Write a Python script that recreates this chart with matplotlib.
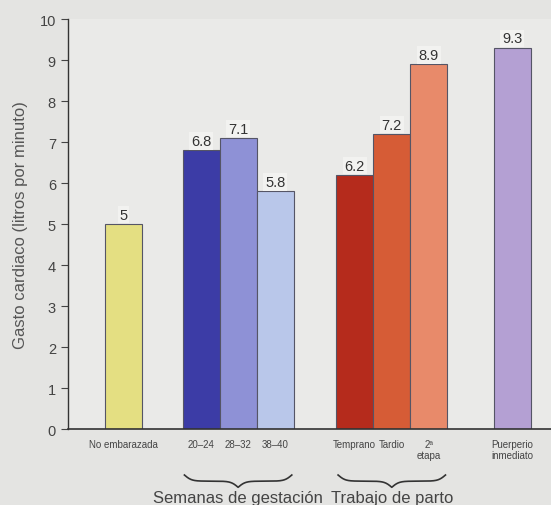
import numpy as np
import matplotlib.pyplot as plt

plt.rcParams['font.family'] = ['Liberation Sans', 'DejaVu Sans']

# Datos
categorias = ['No embarazada', '20–24', '28–32', '38–40',
              'Temprano', 'Tardio', '2ª\netapa', 'Puerperio\ninmediato']
valores = [5, 6.8, 7.1, 5.8, 6.2, 7.2, 8.9, 9.3]
posiciones = [1.5, 3.6, 4.6, 5.6, 7.75, 8.75, 9.75, 12.0]
colores = ['#e4df82', '#3c3ca6', '#8e91d6', '#b9c7ea',
           '#b52b1c', '#d65c36', '#e88a6a', '#b4a0d3']
grupos = ['Semanas de gestación', 'Trabajo de parto']
grupo_idx = [(1, 3), (4, 6)]


def llave(ax, x0, x1, y, h):
    # dibuja una llave horizontal (punta hacia abajo)
    beta = 30.0 / (x1 - x0)
    xs = np.linspace(x0, x1, 301)
    mid = (x0 + x1) / 2
    half = xs[:151]
    yh = 1 / (1 + np.exp(-beta * (half - x0))) + 1 / (1 + np.exp(-beta * (half - mid)))
    ys = np.concatenate([yh, yh[-2::-1]])
    ys = y - h * (ys - ys.min()) / (ys.max() - ys.min())
    ax.plot(xs, ys, color='#333333', lw=1.2, clip_on=False,
            transform=ax.get_xaxis_transform())


fig = plt.figure(figsize=(5.51, 5.06), dpi=100)
fig.patch.set_facecolor('#e4e4e2')
ax = fig.add_axes([0.123, 0.150, 0.877, 0.81])
ax.set_facecolor('#eaeae8')

bars = ax.bar(posiciones, valores, width=1.0, color=colores,
              edgecolor='#555566', linewidth=0.8)
for b, v in zip(bars, valores):
    ax.text(b.get_x() + b.get_width() / 2, v + 0.06, f'{v:g}',
            ha='center', va='bottom', fontsize=10.5, color='#333333',
            bbox=dict(boxstyle='square,pad=0.12', fc='#f2f2f0', ec='none'))

ax.set_xlim(0, 13.05)
ax.set_ylim(0, 10)
ax.set_yticks(range(0, 11))
ax.tick_params(axis='y', labelsize=10.5, colors='#444444', length=5, width=0.8)
ax.set_xticks(posiciones)
ax.set_xticklabels(categorias, fontsize=7, color='#444444', va='top')
ax.tick_params(axis='x', length=0, pad=7)
ax.set_ylabel('Gasto cardiaco (litros por minuto)', fontsize=12,
              color='#555555', labelpad=8)

for s in ['top', 'right']:
    ax.spines[s].set_visible(False)
ax.spines['left'].set_color('#333333')
ax.spines['bottom'].set_color('#333333')
ax.spines['left'].set_linewidth(1.0)
ax.spines['bottom'].set_linewidth(1.2)

for nombre, (i, j) in zip(grupos, grupo_idx):
    x0 = posiciones[i] - 0.45
    x1 = posiciones[j] + 0.45
    llave(ax, x0, x1, -0.112, 0.03)
    ax.text((x0 + x1) / 2, -0.166, nombre, ha='center', va='center',
            fontsize=12, color='#444444', transform=ax.get_xaxis_transform())

fig.savefig('out.png', dpi=100, facecolor=fig.get_facecolor())
